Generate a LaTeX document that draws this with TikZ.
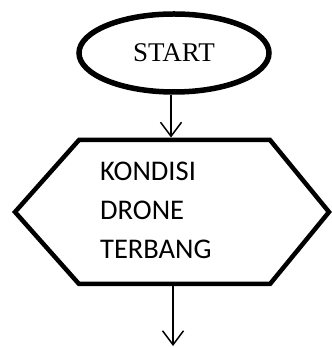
\documentclass[tikz,border=0pt]{standalone}
\usepackage{fontspec}
\setmainfont{Carlito}
\newfontfamily\timesfont{Liberation Serif}
\usetikzlibrary{shapes.geometric, arrows.meta}

\begin{document}
\begin{tikzpicture}[x=1pt, y=1pt,
  terminal/.style = {ellipse, draw, line width=5.5pt, inner sep=0pt,
    minimum width=190pt, minimum height=78pt,
    font=\timesfont\fontsize{27}{30}\selectfont},
  flow/.style = {line width=1.5pt, -{Straight Barb[length=14pt,width=21pt]}}]
\useasboundingbox (0,0) rectangle (331,347);

\node [terminal] (start) at (174,294) {START};

\coordinate (left) at (15,135);
\coordinate (topleft) at (79,207);
\coordinate (topright) at (270,207);
\coordinate (right) at (329,135);
\coordinate (bottomright) at (270,63);
\coordinate (bottomleft) at (79,63);
\draw [line width=4.5pt, line join=miter] (left) -- (topleft) -- (topright)
  -- (right) -- (bottomright) -- (bottomleft) -- cycle;

\node [anchor=base west, align=left, inner sep=0pt,
  font=\fontsize{28.5}{39}\selectfont] (kondisi) at (100,88) {KONDISI\\DRONE\\TERBANG};

\coordinate (in) at (171,209.5);
\coordinate (out) at (173,63);
\coordinate (end) at (173,1);
\draw [flow] (start.south -| in) -- (in);
\draw [flow] (out) -- (end);
\end{tikzpicture}
\end{document}
